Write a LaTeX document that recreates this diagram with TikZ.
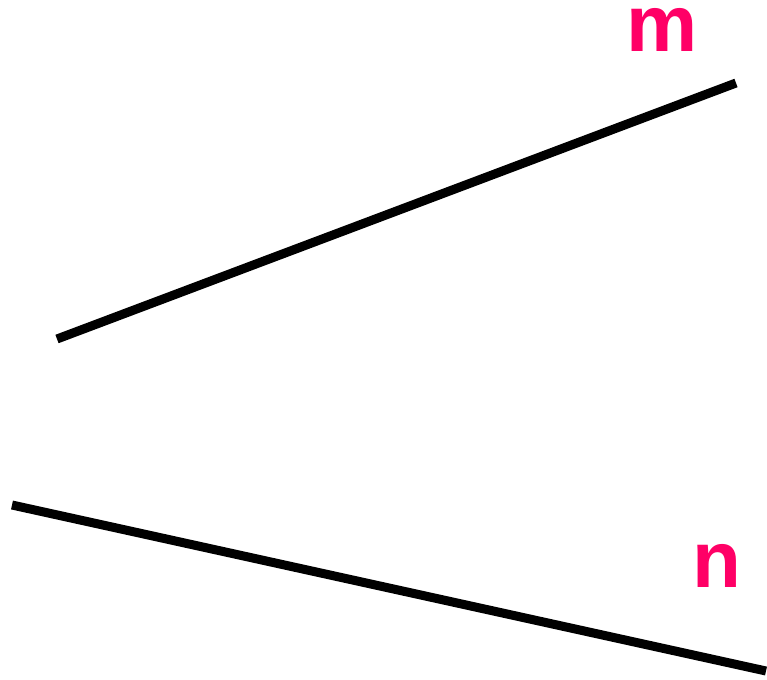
\documentclass[tikz,border=0pt]{standalone}
\usepackage{fontspec}
\setmainfont{Liberation Sans}
\definecolor{lbl}{RGB}{255,0,102}
\begin{document}
\begin{tikzpicture}[x=1pt,y=-1pt,
  seg/.style={line width=9pt,black},
  lab/.style={text=lbl,font=\fontsize{80}{80}\selectfont\bfseries,inner sep=0pt}]
\useasboundingbox (0,0) rectangle (767,679);
\coordinate (m1) at (57,339);
\coordinate (m2) at (736,83);
\coordinate (n1) at (12,505);
\coordinate (n2) at (766,671);
\draw[seg] (m1) -- (m2);
\draw[seg] (n1) -- (n2);
\node[lab] (m) at (662,30) {m};
\node[lab] (n) at (717,566) {n};
\end{tikzpicture}
\end{document}
